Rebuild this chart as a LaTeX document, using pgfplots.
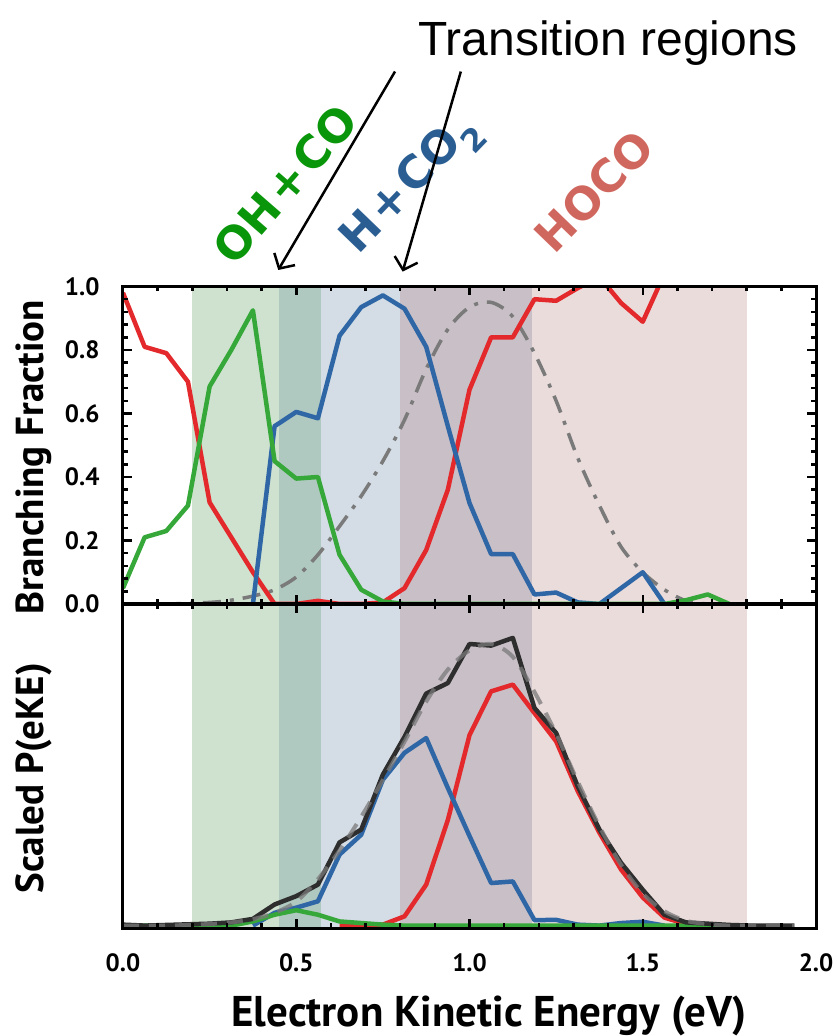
\documentclass[border=0pt]{standalone}
\usepackage{pgfplots}
\pgfplotsset{compat=1.18}
\usepackage{fontspec}
\setmainfont{Liberation Sans}
\setsansfont{PT Sans}
\newfontfamily\speciesfont{DejaVu Sans}
\usetikzlibrary{arrows.meta}

% line colours
\definecolor{hocored}{HTML}{E3292B}
\definecolor{hcotwoblue}{HTML}{2F67A6}
\definecolor{ohgreen}{HTML}{36A83A}
\definecolor{fitgray}{HTML}{7A7A7A}
\definecolor{totalblack}{HTML}{2E2E2E}
% product regions and their overlaps
\definecolor{shgreen}{HTML}{CFE2CF}
\definecolor{shteal}{HTML}{B0C9C0}
\definecolor{shblue}{HTML}{D4DDE5}
\definecolor{shmauve}{HTML}{C9BFC6}
\definecolor{shpink}{HTML}{EBDCDC}
% channel labels
\definecolor{txtgreen}{HTML}{0A960A}
\definecolor{txtblue}{HTML}{2A5E93}
\definecolor{txtred}{HTML}{D0675F}

\newcommand{\plus}{\hspace{3pt}+\hspace{3pt}}

\pgfplotsset{
  panel/.style={
    x=346.5pt, xmin=0, xmax=2,
    axis line style={line width=3pt, black},
    axis on top,
    tick align=inside,
    major tick length=9pt, minor tick length=5pt,
    every tick/.style={black, line width=2.5pt},
    xtick={0,0.5,1,1.5,2}, minor x tick num=4,
    tick label style={font=\sffamily\bfseries\fontsize{25}{25}\selectfont},
    label style={font=\sffamily\bfseries\fontsize{39}{39}\selectfont},
    /pgf/number format/.cd, fixed, fixed zerofill, precision=1, assume math mode=true,
  },
  band/.style={draw=none, fill=#1, forget plot},
  chan/.style={line width=4.5pt, line join=round, color=#1},
}
\tikzset{
  species/.style={text=#1, font=\speciesfont\bfseries\fontsize{45}{45}\selectfont},
  pointer/.style={line width=2.5pt, -{Straight Barb[length=11pt, width=24pt, line width=2.5pt]}},
}

\begin{document}
\begin{tikzpicture}

% ---------- branching fractions ----------
\begin{axis}[panel,
  name=top, at={(0,0)}, anchor=south west,
  y=317.5pt, ymin=0, ymax=1,
  ytick={0,0.2,0.4,0.6,0.8,1}, minor y tick num=4,
  yticklabel style={xshift=-20pt},
  xticklabels={},
  clip mode=individual,
  ylabel={Branching Fraction},
  ylabel style={at={(axis description cs:-0.114,0.462)}, anchor=base},
]
\addplot[band=shgreen] coordinates {(0.2,0) (0.2,1) (0.45,1) (0.45,0)} -- cycle;
\addplot[band=shteal]  coordinates {(0.45,0) (0.45,1) (0.57,1) (0.57,0)} -- cycle;
\addplot[band=shblue]  coordinates {(0.57,0) (0.57,1) (0.8,1) (0.8,0)} -- cycle;
\addplot[band=shmauve] coordinates {(0.8,0) (0.8,1) (1.18,1) (1.18,0)} -- cycle;
\addplot[band=shpink]  coordinates {(1.18,0) (1.18,1) (1.8,1) (1.8,0)} -- cycle;

% normalised total distribution
\addplot[color=fitgray, line width=3.5pt, smooth,
  dash pattern=on 18pt off 9pt on 4pt off 9pt] coordinates {
  (0,0) (0.125,0) (0.25,0.005) (0.3125,0.012) (0.375,0.025) (0.4375,0.045)
  (0.5,0.085) (0.5625,0.155) (0.625,0.245) (0.6875,0.34) (0.75,0.45)
  (0.8125,0.58) (0.875,0.74) (0.9375,0.865) (1.0,0.935) (1.0625,0.95)
  (1.125,0.905) (1.1875,0.79) (1.25,0.64) (1.3125,0.46) (1.375,0.31)
  (1.4375,0.18) (1.5,0.10) (1.5625,0.045) (1.625,0.01) (1.6875,0) (1.75,0)};

% HOCO
\addplot[chan=hocored] coordinates {
  (0,0.98) (0.0625,0.81) (0.125,0.79) (0.1875,0.70) (0.25,0.32) (0.3125,0.21)
  (0.375,0.10) (0.4375,0.0) (0.5,0.0) (0.5625,0.01) (0.625,0.0) (0.6875,0.0)
  (0.75,0.005) (0.8125,0.05) (0.875,0.17) (0.9375,0.36) (1.0,0.675)
  (1.0625,0.84) (1.125,0.84) (1.1875,0.96) (1.25,0.955) (1.3125,0.995)
  (1.375,1.03) (1.4375,0.948) (1.5,0.889) (1.5625,1.04)};
% H + CO2
\addplot[chan=hcotwoblue] coordinates {
  (0.375,0) (0.4375,0.56) (0.5,0.605) (0.5625,0.585) (0.625,0.845)
  (0.6875,0.935) (0.75,0.972) (0.8125,0.93) (0.875,0.81) (0.9375,0.56)
  (1.0,0.318) (1.0625,0.157) (1.125,0.157) (1.1875,0.03) (1.25,0.036)
  (1.3125,0.005) (1.375,0) (1.4375,0.05) (1.5,0.10) (1.5625,0)};
% OH + CO
\addplot[chan=ohgreen] coordinates {
  (0,0.05) (0.0625,0.21) (0.125,0.23) (0.1875,0.31) (0.25,0.685) (0.3125,0.80)
  (0.375,0.925) (0.4375,0.45) (0.5,0.395) (0.5625,0.40) (0.625,0.155)
  (0.6875,0.045) (0.75,0.008) (0.8125,0) (0.875,0) (1.0,0) (1.25,0) (1.5,0)
  (1.5625,0) (1.625,0.012) (1.6875,0.03) (1.75,0)};

% channel labels and transition-region arrows
\node[rotate=49, species=txtgreen] at (axis cs:0.468,1.322) {OH\plus CO};
\node[rotate=46, species=txtblue] at (axis cs:0.835,1.317) {H\plus CO\textsubscript{2}};
\node[rotate=46, species=txtred] at (axis cs:1.36,1.30) {HOCO};
\node[anchor=base, font=\fontsize{48}{48}\selectfont]
  at (axis cs:1.40,1.729) {Transition regions};
\draw[pointer] (axis cs:0.785,1.677) -- (axis cs:0.448,1.052);
\draw[pointer] (axis cs:0.975,1.677) -- (axis cs:0.807,1.047);
\end{axis}

% ---------- scaled photoelectron spectra ----------
\begin{axis}[panel,
  name=bottom, at={(0,0)}, anchor=north west,
  y=320pt, ymin=-0.0075, ymax=1.005,
  ytick=\empty,
  ylabel={Scaled P(eKE)},
  ylabel style={at={(axis description cs:-0.114,0.462)}, anchor=base},
  xlabel={Electron Kinetic Energy (eV)},
  xlabel style={at={(axis description cs:0.528,0)}, anchor=base, yshift=-98pt,
    font=\sffamily\bfseries\fontsize{43}{43}\selectfont},
  xticklabel style={yshift=-22pt},
]
\addplot[band=shgreen] coordinates {(0.2,-0.0075) (0.2,1.005) (0.45,1.005) (0.45,-0.0075)} -- cycle;
\addplot[band=shteal]  coordinates {(0.45,-0.0075) (0.45,1.005) (0.57,1.005) (0.57,-0.0075)} -- cycle;
\addplot[band=shblue]  coordinates {(0.57,-0.0075) (0.57,1.005) (0.8,1.005) (0.8,-0.0075)} -- cycle;
\addplot[band=shmauve] coordinates {(0.8,-0.0075) (0.8,1.005) (1.18,1.005) (1.18,-0.0075)} -- cycle;
\addplot[band=shpink]  coordinates {(1.18,-0.0075) (1.18,1.005) (1.8,1.005) (1.8,-0.0075)} -- cycle;

% HOCO
\addplot[chan=hocored] coordinates {
  (0.625,0) (0.6875,0) (0.75,0.003) (0.8125,0.029) (0.875,0.128) (0.9375,0.33)
  (1.0,0.595) (1.0625,0.732) (1.125,0.753) (1.1875,0.664) (1.25,0.576)
  (1.3125,0.42) (1.375,0.29) (1.4375,0.175) (1.5,0.088) (1.5625,0.025)
  (1.625,0.005) (1.6875,0)};
% H + CO2
\addplot[chan=hcotwoblue] coordinates {
  (0.375,0) (0.4375,0.04) (0.5,0.056) (0.5625,0.076) (0.625,0.222)
  (0.6875,0.284) (0.75,0.456) (0.8125,0.54) (0.875,0.586) (0.9375,0.43)
  (1.0,0.28) (1.0625,0.133) (1.125,0.138) (1.1875,0.017) (1.25,0.018)
  (1.3125,0.003) (1.375,0) (1.4375,0.008) (1.5,0.012) (1.5625,0)};
% OH + CO
\addplot[chan=ohgreen] coordinates {
  (0,0) (0.125,0) (0.25,0) (0.3125,0) (0.375,0.013) (0.4375,0.034) (0.5,0.048)
  (0.5625,0.034) (0.625,0.013) (0.6875,0.008) (0.75,0.003) (0.8125,0)
  (1.0,0) (1.5,0) (1.75,0)};
% total
\addplot[chan=totalblack] coordinates {
  (0,0.003) (0.0625,0) (0.125,0.002) (0.1875,0.004) (0.25,0.006) (0.3125,0.01)
  (0.375,0.021) (0.4375,0.066) (0.5,0.092) (0.5625,0.128) (0.625,0.26)
  (0.6875,0.30) (0.75,0.472) (0.8125,0.59) (0.875,0.725) (0.9375,0.758)
  (1.0,0.88) (1.0625,0.875) (1.125,0.899) (1.1875,0.68) (1.25,0.602)
  (1.3125,0.435) (1.375,0.30) (1.4375,0.196) (1.5,0.112) (1.5625,0.034)
  (1.625,0.01) (1.6875,0.006) (1.75,0.002) (1.8125,0) (1.875,0) (1.9375,0)};
% fitted total
\addplot[color=fitgray, line width=4pt, smooth, opacity=0.75,
  dash pattern=on 16pt off 10pt] coordinates {
  (0,0) (0.125,0) (0.25,0.005) (0.3125,0.01) (0.375,0.02) (0.4375,0.04)
  (0.5,0.075) (0.5625,0.145) (0.625,0.235) (0.6875,0.34) (0.75,0.455)
  (0.8125,0.575) (0.875,0.70) (0.9375,0.80) (1.0,0.86) (1.0625,0.88)
  (1.125,0.84) (1.1875,0.73) (1.25,0.60) (1.3125,0.45) (1.375,0.31)
  (1.4375,0.19) (1.5,0.10) (1.5625,0.045) (1.625,0.015) (1.6875,0.005)
  (1.75,0) (1.875,0) (1.9375,0)};
\end{axis}

\pgfresetboundingbox
\path[use as bounding box] (-123pt,-432pt) rectangle (713pt,604pt);
\end{tikzpicture}
\end{document}
